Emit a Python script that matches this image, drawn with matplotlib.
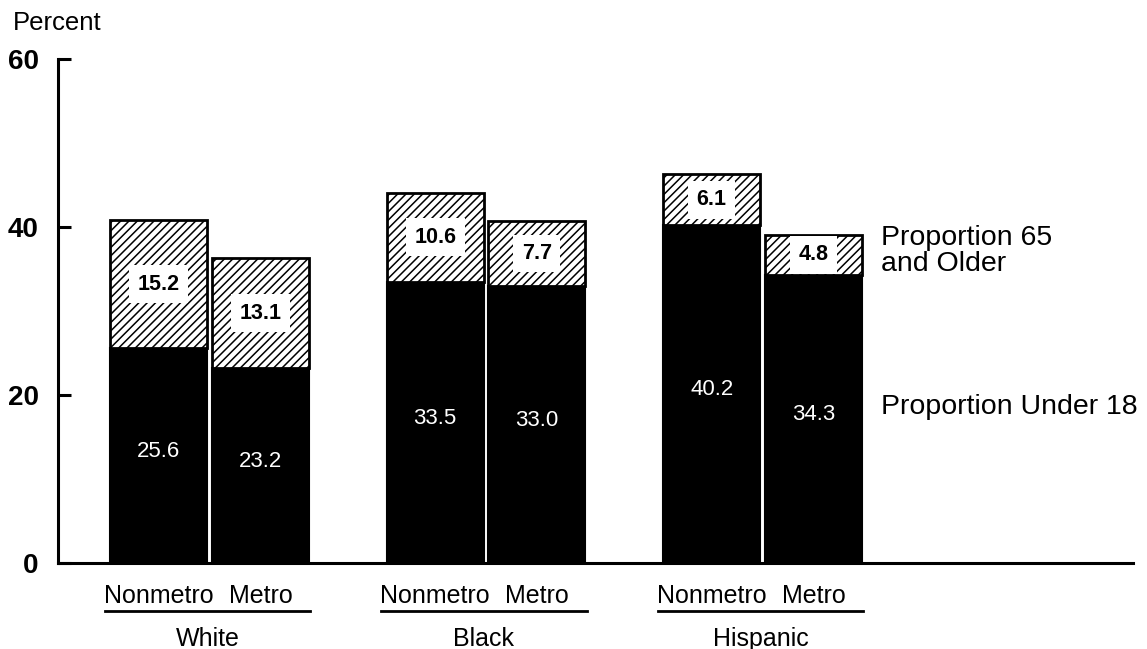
import numpy as np
import matplotlib.pyplot as plt
import matplotlib as mpl

mpl.rcParams['font.family'] = ['Liberation Sans', 'DejaVu Sans']
mpl.rcParams['hatch.linewidth'] = 1.1

groups = ['White', 'Black', 'Hispanic']
areas = ['Nonmetro', 'Metro']
under18 = [25.6, 23.2, 33.5, 33.0, 40.2, 34.3]
older65 = [15.2, 13.1, 10.6, 7.7, 6.1, 4.8]

def bar_positions(n_groups, offset=0.184):
    xs = []
    for g in range(n_groups):
        xs += [g - offset, g + offset]
    return np.array(xs)

def make_plot():
    fig = plt.figure(figsize=(11.47, 6.49), dpi=100)
    ax = fig.add_axes([58 / 1147, 86 / 649, (1133 - 58) / 1147, (563 - 59) / 649])

    xs = bar_positions(len(groups))
    width = 0.35
    low = np.array(under18)
    high = np.array(older65)

    ax.bar(xs, low, width, color='black', edgecolor='black', linewidth=1.5)
    ax.bar(xs, high, width, bottom=low, color='white', edgecolor='black',
           hatch='////', linewidth=2)

    # labels inside bars
    for x, lo, hi in zip(xs, low, high):
        ax.text(x, lo / 2 + 0.5, f'{lo:.1f}', color='white', ha='center', va='center',
                fontsize=16)
        ax.text(x, lo + hi / 2, f'{hi:.1f}', color='black', ha='center', va='center',
                fontsize=15.5, fontweight='bold',
                bbox=dict(facecolor='white', edgecolor='none', pad=6))

    # category labels under bars
    for i, g in enumerate(groups):
        for j, a in enumerate(areas):
            ax.text(xs[2 * i + j], -3.9, a, ha='center', va='center', fontsize=18,
                    clip_on=False)
        left = xs[2 * i] - width / 2 - 0.02
        right = xs[2 * i + 1] + width / 2 + 0.005
        ax.plot([left, right], [-5.7, -5.7], color='black', lw=2, clip_on=False)
        ax.text((left + right) / 2, -9.0, g, ha='center', va='center', fontsize=18,
                clip_on=False)

    # series labels on the right
    ax.text(2.43, 37.1, 'Proportion 65\nand Older', ha='left', va='center', fontsize=20.5,
            linespacing=1.0)
    ax.text(2.43, 18.6, 'Proportion Under 18', ha='left', va='center', fontsize=20.5)

    ax.set_xlim(-0.548, 3.34)
    ax.set_ylim(0, 60)
    ax.set_yticks([0, 20, 40, 60])
    ax.set_xticks([])
    ax.tick_params(axis='y', direction='in', length=9, width=2.2, pad=14, labelsize=20)
    for lab in ax.get_yticklabels():
        lab.set_fontweight('bold')
    for s in ['top', 'right']:
        ax.spines[s].set_visible(False)
    ax.spines['left'].set_linewidth(2.2)
    ax.spines['bottom'].set_linewidth(2.2)

    fig.text(13 / 1147, 1 - 23 / 649, 'Percent', ha='left', va='center', fontsize=18.5)

    fig.savefig('out.png', dpi=100)

make_plot()
